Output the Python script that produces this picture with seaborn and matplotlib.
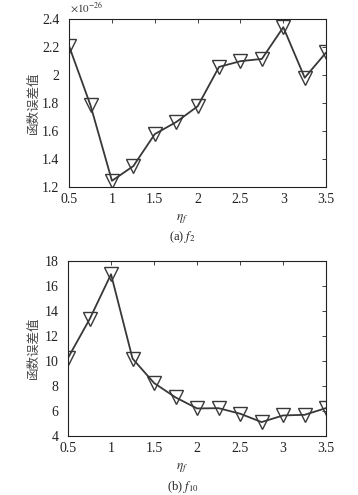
import matplotlib
matplotlib.use("Agg")
import matplotlib.pyplot as plt
import seaborn as sns
import pandas as pd
from matplotlib.ticker import FuncFormatter

eta_f = [0.5, 0.75, 1.0, 1.25, 1.5, 1.75, 2.0, 2.25, 2.5, 2.75, 3.0, 3.25, 3.5]
err_f2 = [2.205, 1.783, 1.245, 1.35, 1.578, 1.664, 1.776, 2.057, 2.098, 2.114, 2.34, 1.98, 2.16]  # x 1e-26
err_f10 = [10.25, 13.33, 16.93, 10.19, 8.24, 7.09, 6.21, 6.23, 5.79, 5.12, 5.65, 5.7, 6.24]

sns.set_style("white")
plt.rcParams['font.family'] = ['Liberation Serif', 'Noto Sans CJK SC']
plt.rcParams['mathtext.fontset'] = 'stix'

fig = plt.figure(figsize=(3.58, 4.95), dpi=100)
col = '#383838'

def panel(rect, y, ylim, yticks, fmt):
    ax = fig.add_axes(rect)
    df = pd.DataFrame({'x': eta_f, 'y': y})
    sns.lineplot(data=df, x='x', y='y', ax=ax, color=col, lw=1.3,
                 marker='v', markersize=9.5, markerfacecolor='none',
                 markeredgecolor=col, markeredgewidth=1.0)
    ax.set_xlim(0.5, 3.5)
    ax.set_ylim(*ylim)
    ax.set_xticks([0.5, 1, 1.5, 2, 2.5, 3, 3.5])
    ax.set_yticks(yticks)
    ax.xaxis.set_major_formatter(FuncFormatter(lambda v, p: '%g' % v))
    ax.yaxis.set_major_formatter(FuncFormatter(fmt))
    ax.tick_params(direction='in', length=3, width=0.6, labelsize=10,
                   top=True, right=True, colors='#222222')
    ax.tick_params(axis='x', pad=4)
    ax.tick_params(axis='y', pad=7)
    for s in ax.spines.values():
        s.set_linewidth(0.8)
        s.set_color('#222222')
    ax.set_xlabel('')
    ax.set_ylabel('')
    return ax

ax1 = panel([0.193, 0.622, 0.718, 0.34], err_f2, (1.2, 2.4),
            [1.2, 1.4, 1.6, 1.8, 2.0, 2.2, 2.4], lambda v, p: '%g' % round(v, 2))
ax2 = panel([0.19, 0.119, 0.721, 0.354], err_f10, (4, 18),
            [4, 6, 8, 10, 12, 14, 16, 18], lambda v, p: '%g' % v)

fig.text(33/358, 1 - 103/495, '函数误差值', family='Noto Sans CJK SC', fontsize=9,
         rotation=90, ha='center', va='center', color='#444444')
fig.text(33/358, 1 - 348/495, '函数误差值', family='Noto Sans CJK SC', fontsize=9,
         rotation=90, ha='center', va='center', color='#444444')

fig.text(70/358, 1 - 8/495, r'$\times10^{-26}$', fontsize=8, ha='left', va='center', color='#333333')

fig.text(0.51, 1 - 219/495, r'$\eta_f$', fontsize=9.5, ha='center', va='center', color='#333333')
fig.text(0.51, 1 - 237/495, r'(a) $f_2$', fontsize=9, ha='center', va='center', color='#222222')
fig.text(0.51, 1 - 468/495, r'$\eta_f$', fontsize=9.5, ha='center', va='center', color='#333333')
fig.text(0.51, 1 - 487/495, r'(b) $f_{10}$', fontsize=9, ha='center', va='center', color='#222222')

fig.savefig('out.png', dpi=100, facecolor='white')
